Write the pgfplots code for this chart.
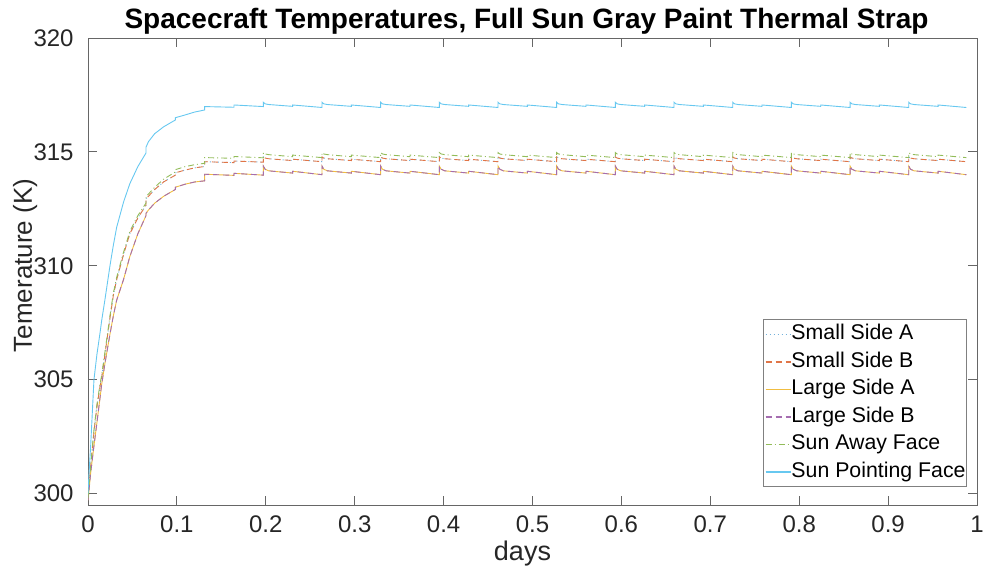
\documentclass[border=0pt]{standalone}
\usepackage{fontspec}
\setmainfont{Liberation Sans}
\usepackage{pgfplots}
\usepackage{pgfplotstable}
\pgfplotsset{compat=1.18}

\definecolor{cA}{rgb}{0,0.447,0.741}
\definecolor{cB}{rgb}{0.85,0.325,0.098}
\definecolor{cC}{rgb}{0.929,0.694,0.125}
\definecolor{cD}{rgb}{0.494,0.184,0.556}
\definecolor{cE}{rgb}{0.466,0.674,0.188}
\definecolor{cF}{rgb}{0.301,0.745,0.933}

\pgfplotstableread{
t lower orange green cyan
0 299.7 299.8 299.8 300.0
0.001 300.1 300.3 300.3 300.8
0.003 300.9 301.2 301.2 302.1
0.0067 302.1 302.7 302.8 305.0
0.01 303.1 303.8 303.9 306.1
0.0135 304.2 304.7 304.8 307.05
0.0154 304.8 305.1 305.2 307.6
0.019 305.7 306.1 306.2 308.5
0.0247 307.0 307.7 307.8 310.0
0.0285 307.8 308.7 308.8 310.9
0.0323 308.5 309.4 309.5 311.7
0.04 309.4 310.5 310.6 312.8
0.047 310.4 311.4 311.5 313.6
0.056 311.4 312.1 312.2 314.35
0.0652 312.2 312.65 312.75 314.95
0.0652 312.3 312.95 313.05 315.2
0.068 312.45 313.05 313.15 315.45
0.075 312.75 313.35 313.45 315.8
0.085 313.05 313.68 313.8 316.1
0.0982 313.35 313.98 314.12 316.4
0.0982 313.45 314.08 314.22 316.5
0.109 313.58 314.2 314.35 316.62
0.12 313.68 314.3 314.44 316.75
0.1312 313.73 314.36 314.5 316.84
0.1312 314.02 314.57 314.75 316.99
0.1642 313.97 314.53 314.72 316.96
0.1642 314.06 314.6 314.8 317.06
0.1972 313.98 314.55 314.74 316.99
0.1972 314.38 314.78 314.97 317.18
0.1992 314.24 314.73 314.91 317.11
0.2032 314.17 314.70 314.88 317.08
0.2302 314.07 314.62 314.79 317.00
0.2302 314.15 314.68 314.86 317.06
0.2632 314.00 314.57 314.75 316.95
0.2632 314.38 314.78 314.97 317.18
0.2652 314.24 314.73 314.91 317.11
0.2692 314.17 314.70 314.88 317.08
0.2962 314.07 314.62 314.79 317.00
0.2962 314.15 314.68 314.86 317.06
0.3292 314.00 314.57 314.75 316.95
0.3292 314.38 314.78 314.97 317.18
0.3312 314.24 314.73 314.91 317.11
0.3352 314.17 314.70 314.88 317.08
0.3622 314.07 314.62 314.79 317.00
0.3622 314.15 314.68 314.86 317.06
0.3952 314.00 314.57 314.75 316.95
0.3952 314.38 314.78 314.97 317.18
0.3972 314.24 314.73 314.91 317.11
0.4012 314.17 314.70 314.88 317.08
0.4282 314.07 314.62 314.79 317.00
0.4282 314.15 314.68 314.86 317.06
0.4612 314.00 314.57 314.75 316.95
0.4612 314.38 314.78 314.97 317.18
0.4632 314.24 314.73 314.91 317.11
0.4672 314.17 314.70 314.88 317.08
0.4942 314.07 314.62 314.79 317.00
0.4942 314.15 314.68 314.86 317.06
0.5272 314.00 314.57 314.75 316.95
0.5272 314.38 314.78 314.97 317.18
0.5292 314.24 314.73 314.91 317.11
0.5332 314.17 314.70 314.88 317.08
0.5602 314.07 314.62 314.79 317.00
0.5602 314.15 314.68 314.86 317.06
0.5932 314.00 314.57 314.75 316.95
0.5932 314.38 314.78 314.97 317.18
0.5952 314.24 314.73 314.91 317.11
0.5992 314.17 314.70 314.88 317.08
0.6262 314.07 314.62 314.79 317.00
0.6262 314.15 314.68 314.86 317.06
0.6592 314.00 314.57 314.75 316.95
0.6592 314.38 314.78 314.97 317.18
0.6612 314.24 314.73 314.91 317.11
0.6652 314.17 314.70 314.88 317.08
0.6922 314.07 314.62 314.79 317.00
0.6922 314.15 314.68 314.86 317.06
0.7252 314.00 314.57 314.75 316.95
0.7252 314.38 314.78 314.97 317.18
0.7272 314.24 314.73 314.91 317.11
0.7312 314.17 314.70 314.88 317.08
0.7582 314.07 314.62 314.79 317.00
0.7582 314.15 314.68 314.86 317.06
0.7912 314.00 314.57 314.75 316.95
0.7912 314.38 314.78 314.97 317.18
0.7932 314.24 314.73 314.91 317.11
0.7972 314.17 314.70 314.88 317.08
0.8242 314.07 314.62 314.79 317.00
0.8242 314.15 314.68 314.86 317.06
0.8572 314.00 314.57 314.75 316.95
0.8572 314.38 314.78 314.97 317.18
0.8592 314.24 314.73 314.91 317.11
0.8632 314.17 314.70 314.88 317.08
0.8902 314.07 314.62 314.79 317.00
0.8902 314.15 314.68 314.86 317.06
0.9232 314.00 314.57 314.75 316.95
0.9232 314.38 314.78 314.97 317.18
0.9252 314.24 314.73 314.91 317.11
0.9292 314.17 314.70 314.88 317.08
0.9562 314.07 314.62 314.79 317.00
0.9562 314.15 314.68 314.86 317.06
0.988 314.00 314.57 314.75 316.95
}\data

\begin{document}
\begin{tikzpicture}
\path[use as bounding box] (0pt,0pt) rectangle (493pt,287.5pt);
\begin{axis}[
  at={(44pt,35pt)}, anchor=south west,
  scale only axis, width=444.5pt, height=233.5pt,
  clip mode=individual,
  xmin=0, xmax=1, ymin=299.5, ymax=320,
  xtick={0,0.1,0.2,0.3,0.4,0.5,0.6,0.7,0.8,0.9,1},
  xticklabels={0,0.1,0.2,0.3,0.4,0.5,0.6,0.7,0.8,0.9,1},
  ytick={300,305,310,315,320},
  yticklabels={300,305,310,315,320},
  tick align=inside,
  major tick length=4.5pt,
  axis line style={black!60, line width=0.5pt},
  tick style={black!60, line width=0.5pt},
  tick label style={font=\fontsize{12}{14}\selectfont, text=black!85},
  xticklabel style={anchor=base, yshift=-13.5pt},
  yticklabel style={anchor=east, inner sep=0pt, xshift=-7pt},
  legend cell align=left,
  legend style={
    at={(0.9888,0.0385)}, anchor=south east,
    draw=black!50, line width=0.5pt,
    font=\fontsize{10.65}{12}\selectfont,
    inner sep=0.5pt, row sep=0pt,
    nodes={inner sep=0pt, text height=9.5pt, text depth=4.25pt},
  },
  legend image code/.code={\draw[#1, line width=0.75pt] (0pt,0pt) -- (12.5pt,0pt);},
]
\addplot[draw=cA!55, line width=0.45pt, dash pattern=on 0.5pt off 1.5pt] table[x=t,y=orange] {\data};
\addlegendentry{Small Side A}
\addplot[draw=cB!80, line width=0.45pt, dash pattern=on 3pt off 2pt] table[x=t,y=orange] {\data};
\addlegendentry{Small Side B}
\addplot[draw=cC!85, line width=0.45pt] table[x=t,y=lower] {\data};
\addlegendentry{Large Side A}
\addplot[draw=cD!70, line width=0.45pt, dash pattern=on 3pt off 2pt] table[x=t,y=lower] {\data};
\addlegendentry{Large Side B}
\addplot[draw=cE!80, line width=0.45pt, dash pattern=on 3pt off 1.5pt on 0.5pt off 1.5pt] table[x=t,y=green] {\data};
\addlegendentry{Sun Away Face}
\addplot[draw=cF!85, line width=0.45pt] table[x=t,y=cyan] {\data};
\addlegendentry{Sun Pointing Face}
\node[font=\bfseries\fontsize{14}{16}\selectfont, anchor=base, text=black] at ([xshift=-3pt,yshift=5pt]rel axis cs:0.5,1) {Spacecraft Temperatures, Full Sun Gray Paint Thermal Strap};
\node[font=\fontsize{13.5}{16}\selectfont, anchor=base, text=black!85] at ([xshift=-5pt,yshift=-27.5pt]rel axis cs:0.5,0) {days};
\node[font=\fontsize{13}{16}\selectfont, anchor=base, rotate=90, text=black!85] at ([xshift=-28pt,yshift=3pt]rel axis cs:0,0.5) {Temerature (K)};
\end{axis}
\end{tikzpicture}
\end{document}
